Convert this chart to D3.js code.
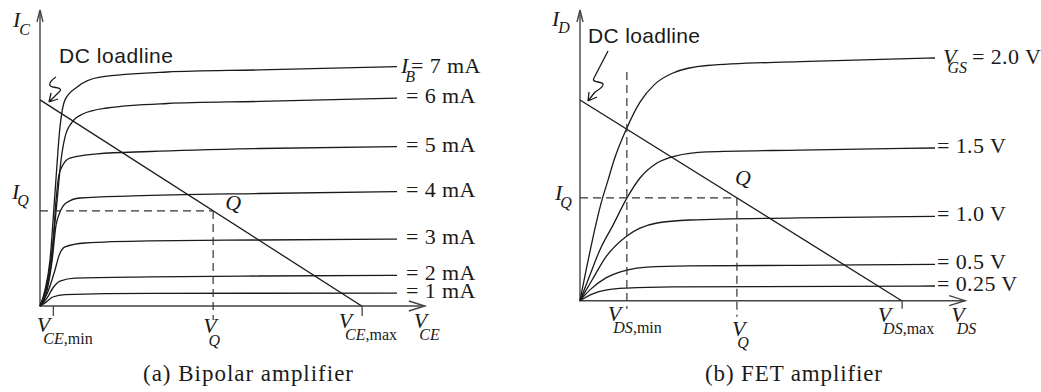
<!DOCTYPE html>
<html>
<head>
<meta charset="utf-8">
<script src="https://cdn.jsdelivr.net/npm/d3@7"></script>
<style>
  body { margin: 0; background: #fff; }
  svg { display: block; }
  .curve { fill: none; stroke: #1a1a1a; stroke-width: 1.3; }
  .axis-line { fill: none; stroke: #444; stroke-width: 1.4; }
  .dash { fill: none; stroke: #333; stroke-width: 1.2; stroke-dasharray: 8 5; }
  .serif { font-family: "Liberation Serif", "Times New Roman", serif; fill: #1a1a1a; }
  .sans { font-family: "Liberation Sans", Arial, sans-serif; fill: #1a1a1a; }
</style>
</head>
<body>
<svg id="chart" width="1041" height="392"></svg>
<script>
// ---------- Bipolar amplifier: I_C vs V_CE for each base current ----------
const ibLabels = ["7 mA", "6 mA", "5 mA", "4 mA", "3 mA", "2 mA", "1 mA"];
const ib7 = [[0,0],[0.14,0.53],[0.28,1.53],[0.42,3.77],[0.56,5.97],[0.70,6.87],[1.04,7.3],[1.68,7.63],[3.56,7.8],[6.16,7.87],[10,7.98]];
const ib6 = [[0,0],[0.17,0.6],[0.34,1.87],[0.48,3.53],[0.59,4.87],[0.70,5.63],[0.90,6.13],[1.20,6.4],[1.88,6.6],[3.56,6.75],[6.16,6.82],[10,6.93]];
const ib5 = [[0,0],[0.17,0.53],[0.34,1.7],[0.45,3.53],[0.53,4.37],[0.64,4.7],[0.84,4.93],[1.60,5.07],[3.08,5.15],[6.16,5.25],[10,5.31]];
const ib4 = [[0,0],[0.20,0.53],[0.34,1.53],[0.45,2.7],[0.56,3.13],[0.73,3.43],[1.12,3.6],[2.61,3.67],[6.16,3.75],[10,3.81]];
const ib3 = [[0,0],[0.22,0.47],[0.42,1.2],[0.53,1.67],[0.70,1.97],[1.26,2.1],[3.08,2.17],[6.16,2.2],[10,2.23]];
const ib2 = [[0,0],[0.20,0.27],[0.36,0.6],[0.56,0.83],[0.98,0.93],[3.08,0.97],[6.16,1.0],[10,1.02]];
const ib1 = [[0,0],[0.17,0.13],[0.36,0.3],[0.70,0.38],[3.08,0.42],[10,0.43]];
const bjtCurves = [ib7, ib6, ib5, ib4, ib3, ib2, ib1];
const bjtLoadline = [[0, 6.87], [9.01, 0]];
const bjtQ = [4.85, 3.17];
const bjtVmin = 0.36;

// ---------- FET amplifier: I_D vs V_DS for each gate voltage ----------
const vgsLabels = ["2.0 V", "1.5 V", "1.0 V", "0.5 V", "0.25 V"];
const vgs20 = [[0,0],[0.62,3.36],[0.79,4.02],[0.96,4.69],[1.32,5.76],[1.69,6.62],[2.11,7.22],[2.62,7.59],[3.58,7.84],[6.2,7.97],[10,8.09]];
const vgs15 = [[0,0],[0.28,0.86],[0.56,1.69],[0.93,2.52],[1.32,3.42],[1.69,4.09],[2.17,4.59],[2.68,4.82],[3.58,4.96],[6.2,5.02],[10,5.09]];
const vgs10 = [[0,0],[0.34,0.69],[0.73,1.46],[1.32,2.16],[1.69,2.42],[2.17,2.59],[3.1,2.69],[6.2,2.76],[10,2.81]];
const vgs05 = [[0,0],[0.28,0.36],[0.73,0.76],[1.32,1.02],[1.89,1.12],[3.1,1.16],[6.2,1.18],[10,1.21]];
const vgs025 = [[0,0],[0.34,0.22],[0.76,0.36],[1.32,0.42],[2.62,0.46],[10,0.49]];
const fetCurves = [vgs20, vgs15, vgs10, vgs05, vgs025];
const fetLoadline = [[0, 6.69], [9.06, 0]];
const fetQ = [4.42, 3.43];
const fetVmin = 1.32;
const fetVminTop = 7.62;

const svg = d3.select("#chart");
svg.append("rect").attr("width", 1041).attr("height", 392).attr("fill", "#fff");

// italic symbol with a subscript (italic part + optional upright part)
function symbol(g, x, y, main, subIt, subUp, subDx, subDy, size, subSize) {
  const t = g.append("text").attr("class", "serif").attr("x", x).attr("y", y);
  t.append("tspan").attr("font-style", "italic").attr("font-size", size).text(main);
  const s = t.append("tspan").attr("font-size", subSize).attr("dx", subDx).attr("dy", subDy);
  s.append("tspan").attr("font-style", "italic").text(subIt);
  if (subUp) s.append("tspan").text(subUp);
  return t;
}

function panel(opts) {
  const g = svg.append("g");
  const x = d3.scaleLinear().domain([0, 10]).range(opts.xRange);
  const y = d3.scaleLinear().domain([0, 10]).range(opts.yRange);
  const x0 = x(0), y0 = y(0);
  const xEnd = x(opts.xAxisMax), yTop = y(opts.yAxisMax);

  // axes with open arrowheads
  g.append("path").attr("class", "axis-line")
    .attr("d", `M${x0},${yTop}V${y0}H${xEnd}`);
  g.append("path").attr("class", "axis-line")
    .attr("d", `M${xEnd - 16},${y0 - 5}L${xEnd},${y0}L${xEnd - 16},${y0 + 5}`);
  g.append("path").attr("class", "axis-line")
    .attr("d", `M${x0 - 3},${yTop + 12}L${x0},${yTop}L${x0 + 3},${yTop + 12}`);

  // characteristic curves
  const line = d3.line().x(d => x(d[0])).y(d => y(d[1])).curve(d3.curveMonotoneX);
  g.selectAll("path.curve").data(opts.curves).join("path")
    .attr("class", "curve").attr("d", line);

  // load line
  g.append("path").attr("class", "curve").attr("stroke-width", 1.2)
    .attr("d", d3.line().x(d => x(d[0])).y(d => y(d[1]))(opts.load));

  // small ticks at V_min and V_max
  const ticks = d3.axisBottom(x).tickValues(opts.tickVals)
    .tickSizeInner(opts.tickLen).tickSizeOuter(0).tickFormat("");
  const tg = g.append("g").attr("transform", `translate(0,${y0})`).call(ticks);
  tg.select(".domain").remove();
  tg.selectAll(".tick line").attr("stroke", "#444").attr("stroke-width", 1.3);

  // quiescent point guides
  const qx = x(opts.q[0]), qy = y(opts.q[1]);
  g.append("path").attr("class", "dash").attr("d", `M${x0},${qy}H${qx}`);
  g.append("path").attr("class", "dash").attr("d", `M${qx},${qy}V${y0 + opts.qDrop}`);

  return { g, x, y, x0, y0, qx, qy };
}

// ---------------- (a) Bipolar ----------------
const A = panel({
  xRange: [40, 397], yRange: [306, 6], xAxisMax: 10.78, yAxisMax: 9.87,
  curves: bjtCurves, load: bjtLoadline, q: bjtQ,
  tickVals: [bjtVmin, bjtLoadline[1][0]], tickLen: 10, qDrop: 14
});

// curve labels
ibLabels.forEach((lab, i) => {
  const c = bjtCurves[i], last = c[c.length - 1];
  const lx = A.x(last[0]), ly = A.y(last[1]);
  if (i === 0) {
    const t = A.g.append("text").attr("class", "serif").attr("x", lx + 4).attr("y", ly + 6).attr("font-size", 22);
    t.append("tspan").attr("font-style", "italic").text("I");
    t.append("tspan").attr("font-style", "italic").attr("font-size", 16).attr("dx", -3).attr("dy", 9).text("B");
    t.append("tspan").attr("x", lx + 14).attr("dy", -9).attr("letter-spacing", 0.4).text("= " + lab);
  } else {
    A.g.append("text").attr("class", "serif").attr("x", lx + 9).attr("y", ly + 5)
      .attr("font-size", 22).attr("letter-spacing", 0.4).text("= " + lab);
  }
});

symbol(A.g, 13, 27, "I", "C", null, -1, 8, 22, 16);
symbol(A.g, 12, A.qy - 12, "I", "Q", null, -2, 7, 22, 16);
symbol(A.g, A.x(bjtVmin) - 16, A.y0 + 26, "V", "CE", ",min", -7, 12, 22, 16);
symbol(A.g, A.qx - 10, A.y0 + 27, "V", "Q", null, -8, 13, 22, 16);
symbol(A.g, A.x(bjtLoadline[1][0]) - 23, A.y0 + 22, "V", "CE", ",max", -7, 12, 22, 16);
symbol(A.g, A.x(10.78) - 11, A.y0 + 22, "V", "CE", null, -8, 12, 22, 16);
A.g.append("text").attr("class", "serif").attr("x", A.qx + 12).attr("y", A.qy - 1)
  .attr("font-style", "italic").attr("font-size", 22).text("Q");

A.g.append("text").attr("class", "sans").attr("x", 59).attr("y", 63)
  .attr("font-size", 21).attr("textLength", 114).text("DC loadline");
A.g.append("path").attr("class", "curve").attr("stroke-width", 1.1)
  .attr("d", "M56,77C50,81 47,86 53,87C60,88 63,89 58,93L49,102M49,102L51,93M49,102L58,99");

A.g.append("text").attr("class", "serif").attr("x", 143).attr("y", 381)
  .attr("font-size", 23).attr("textLength", 210).text("(a) Bipolar amplifier");

// ---------------- (b) FET ----------------
const B = panel({
  xRange: [580, 935], yRange: [300.7, 0.7], xAxisMax: 10.85, yAxisMax: 9.69,
  curves: fetCurves, load: fetLoadline, q: fetQ,
  tickVals: [fetLoadline[1][0]], tickLen: 8, qDrop: 16
});
B.g.append("path").attr("class", "dash")
  .attr("d", `M${B.x(fetVmin)},${B.y(fetVminTop)}V${B.y0 + 8}`);

vgsLabels.forEach((lab, i) => {
  const c = fetCurves[i], last = c[c.length - 1];
  const lx = B.x(last[0]), ly = B.y(last[1]);
  if (i === 0) {
    const t = B.g.append("text").attr("class", "serif").attr("x", lx + 8).attr("y", ly + 6).attr("font-size", 22);
    t.append("tspan").attr("font-style", "italic").text("V");
    t.append("tspan").attr("font-style", "italic").attr("font-size", 16).attr("dx", -9).attr("dy", 9).text("GS");
    t.append("tspan").attr("x", lx + 37).attr("dy", -9).attr("letter-spacing", 0.4).text("= " + lab);
  } else {
    B.g.append("text").attr("class", "serif").attr("x", lx + 2).attr("y", ly + 5)
      .attr("font-size", 22).attr("letter-spacing", 0.4).text("= " + lab);
  }
});

symbol(B.g, 552, 26, "I", "D", null, -1, 7, 22, 16);
symbol(B.g, 555, B.qy + 2, "I", "Q", null, -2, 8, 22, 16);
symbol(B.g, B.x(fetVmin) - 19, B.y0 + 20, "V", "DS", ",min", -8, 12, 22, 16);
symbol(B.g, B.qx - 5, B.y0 + 35, "V", "Q", null, -8, 12, 22, 16);
symbol(B.g, B.x(fetLoadline[1][0]) - 24, B.y0 + 21, "V", "DS", ",max", -8, 12, 22, 16);
symbol(B.g, B.x(10.85) - 14, B.y0 + 21, "V", "DS", null, -8, 12, 22, 16);
B.g.append("text").attr("class", "serif").attr("x", B.qx - 2).attr("y", B.qy - 13)
  .attr("font-style", "italic").attr("font-size", 22).text("Q");

B.g.append("text").attr("class", "sans").attr("x", 588).attr("y", 43)
  .attr("font-size", 21).attr("textLength", 112).text("DC loadline");
B.g.append("path").attr("class", "curve").attr("stroke-width", 1.1)
  .attr("d", "M608,51L594,78C591,83 601,81 603,84C604,87 598,90 595,92L588,101M588,101L589,92M588,101L597,97");

B.g.append("text").attr("class", "serif").attr("x", 705).attr("y", 381)
  .attr("font-size", 23).attr("textLength", 177).text("(b) FET amplifier");
</script>
</body>
</html>
